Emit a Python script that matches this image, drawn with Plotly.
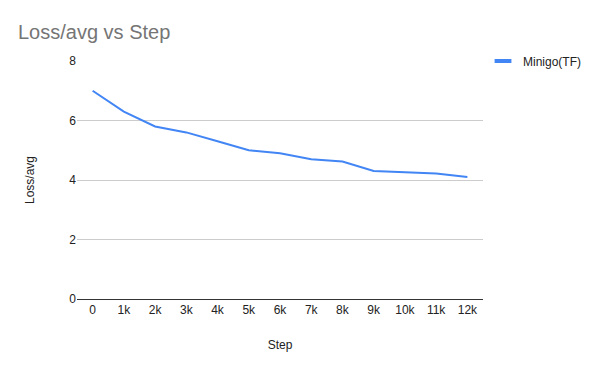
import plotly.graph_objects as go

steps = ["0", "1k", "2k", "3k", "4k", "5k", "6k", "7k", "8k", "9k", "10k", "11k", "12k"]
loss_avg = [7.0, 6.3, 5.8, 5.6, 5.3, 5.0, 4.9, 4.7, 4.62, 4.3, 4.26, 4.22, 4.1]
series_name = "Minigo(TF)"
y_ticks = [0, 2, 4, 6, 8]

FONT = "Liberation Sans, Arial, sans-serif"
BLUE = "#4285F4"
OFF = 8  # page body margin offset compensation

fig = go.Figure()
fig.add_trace(go.Scatter(
    x=steps, y=loss_avg, mode="lines", name=series_name,
    line=dict(color=BLUE, width=2), showlegend=False,
))
fig.add_trace(go.Scatter(
    x=[None], y=[None], mode="markers", name=series_name,
    marker=dict(symbol="line-ew", size=12, line=dict(color=BLUE, width=4)),
    showlegend=True,
))

fig.update_layout(
    width=600, height=371,
    margin=dict(l=77 - OFF, r=117 + OFF, t=61 - OFF, b=72 + OFF, autoexpand=False),
    paper_bgcolor="white", plot_bgcolor="white",
    font=dict(family=FONT, size=12, color="#222222"),
    title=dict(text="Loss/avg vs Step", x=(18 - OFF) / 600, xanchor="left", xref="container",
               y=(371 - (32 - OFF)) / 371, yanchor="middle", yref="container",
               font=dict(family=FONT, size=20, color="#757575")),
    legend=dict(x=1.0, xanchor="left", y=1.0, yanchor="middle",
                font=dict(family=FONT, size=12, color="#222222"),
                bgcolor="rgba(0,0,0,0)"),
    xaxis=dict(type="category", range=[-0.5, 12.5], showgrid=False, zeroline=False, showline=True,
               linecolor="#333333", linewidth=1, ticks="", automargin=False,
               title=dict(text="Step", standoff=24, font=dict(size=12))),
    yaxis=dict(range=[0, 8], tickvals=y_ticks, showgrid=True, gridcolor="#cccccc",
               zeroline=False, showline=False, ticks="", automargin=False,
               title=dict(text="Loss/avg", standoff=32, font=dict(size=12))),
)

fig.write_html("out.html")
